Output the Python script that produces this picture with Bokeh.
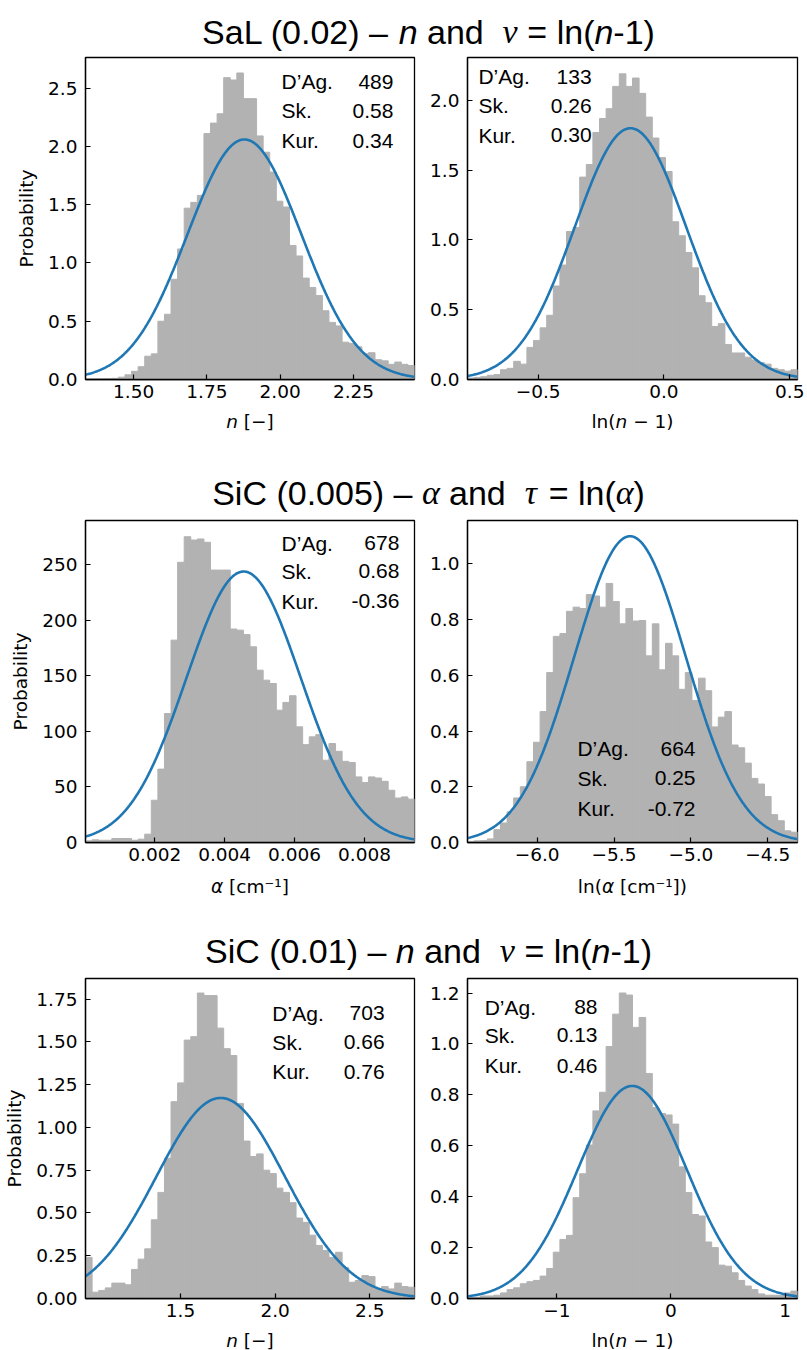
import numpy as np
from bokeh.plotting import figure
from bokeh.layouts import column, row
from bokeh.models import Range1d, FixedTicker
from bokeh.core.properties import value
from bokeh.embed import file_html
from bokeh.resources import INLINE

# ------------------------------------------------------------------ data
stat_names = ["D\u2019Ag.", "Sk.", "Kur."]

# Row 1 : SaL (0.02) - n and nu = ln(n-1)
sal_n_xlim = [1.336, 2.458]
sal_n_ylim = [0.0, 2.763]
sal_n_counts = [0.0, 0.0, 0.003, 0.008, 0.01, 0.02, 0.04, 0.07, 0.11, 0.20,
                0.22, 0.50, 0.56, 0.86, 1.12, 1.47, 1.52, 1.58, 2.11, 2.20,
                2.28, 2.59, 2.57, 2.63, 2.41, 2.41, 2.09, 1.95, 1.78, 1.53,
                1.48, 1.15, 1.06, 0.87, 0.79, 0.72, 0.59, 0.49, 0.46, 0.32,
                0.31, 0.28, 0.22, 0.23, 0.17, 0.16, 0.13, 0.15, 0.13, 0.12]
sal_n_fit = [1.878, 0.1937]          # mean, std of fitted normal
sal_n_stats = ["489", "0.58", "0.34"]
sal_n_xticks = [1.5, 1.75, 2.0, 2.25]
sal_n_xticklabels = ["1.50", "1.75", "2.00", "2.25"]
sal_n_yticks = [0.0, 0.5, 1.0, 1.5, 2.0, 2.5]
sal_n_yticklabels = ["0.0", "0.5", "1.0", "1.5", "2.0", "2.5"]

sal_v_xlim = [-0.781, 0.531]
sal_v_ylim = [0.0, 2.307]
sal_v_counts = [0.01, 0.015, 0.02, 0.03, 0.035, 0.07, 0.08, 0.13, 0.11, 0.23,
                0.28, 0.37, 0.46, 0.67, 0.82, 1.06, 1.09, 1.45, 1.54, 1.77,
                1.87, 1.94, 2.10, 2.19, 2.10, 2.16, 2.05, 1.88, 1.73, 1.59,
                1.49, 1.13, 1.03, 0.91, 0.80, 0.60, 0.55, 0.38, 0.40, 0.25,
                0.19, 0.19, 0.16, 0.14, 0.12, 0.11, 0.08, 0.07, 0.06, 0.07]
sal_v_fit = [-0.133, 0.2216]
sal_v_stats = ["133", "0.26", "0.30"]
sal_v_xticks = [-0.5, 0.0, 0.5]
sal_v_xticklabels = ["\u22120.5", "0.0", "0.5"]
sal_v_yticks = [0.0, 0.5, 1.0, 1.5, 2.0]
sal_v_yticklabels = ["0.0", "0.5", "1.0", "1.5", "2.0"]

# Row 2 : SiC (0.005) - alpha and tau = ln(alpha)
sic_a_xlim = [0.00002, 0.00943]
sic_a_ylim = [0.0, 289.6]
sic_a_counts = [1.5, 2.4, 2, 2, 3.6, 3.6, 3.6, 2, 3, 7.5,
                38, 66, 116, 182, 252, 275, 272, 273, 270, 245,
                245, 245, 192, 191, 187, 176, 155, 146, 143, 119,
                126, 132, 104, 88, 95, 97, 74, 89, 82, 73,
                72, 59, 54, 59, 58, 55, 47, 40, 41, 39]
sic_a_fit = [0.004543, 0.001637]
sic_a_stats = ["678", "0.68", "-0.36"]
sic_a_xticks = [0.002, 0.004, 0.006, 0.008]
sic_a_xticklabels = ["0.002", "0.004", "0.006", "0.008"]
sic_a_yticks = [0.0, 50.0, 100.0, 150.0, 200.0, 250.0]
sic_a_yticklabels = ["0", "50", "100", "150", "200", "250"]

sic_t_xlim = [-6.453, -4.307]
sic_t_ylim = [0.0, 1.156]
sic_t_counts = [0.004, 0.006, 0.007, 0.013, 0.046, 0.07, 0.11, 0.16, 0.20, 0.29,
                0.36, 0.47, 0.61, 0.74, 0.75, 0.83, 0.845, 0.84, 0.89, 0.885,
                0.845, 0.93, 0.865, 0.785, 0.84, 0.795, 0.797, 0.67, 0.785, 0.62,
                0.715, 0.67, 0.55, 0.61, 0.51, 0.59, 0.545, 0.415, 0.45, 0.47,
                0.35, 0.34, 0.285, 0.23, 0.21, 0.165, 0.10, 0.078, 0.042, 0.037]
sic_t_fit = [-5.396, 0.3628]
sic_t_stats = ["664", "0.25", "-0.72"]
sic_t_xticks = [-6.0, -5.5, -5.0, -4.5]
sic_t_xticklabels = ["\u22126.0", "\u22125.5", "\u22125.0", "\u22124.5"]
sic_t_yticks = [0.0, 0.2, 0.4, 0.6, 0.8, 1.0]
sic_t_yticklabels = ["0.0", "0.2", "0.4", "0.6", "0.8", "1.0"]

# Row 3 : SiC (0.01) - n and nu = ln(n-1)
sic_n_xlim = [0.998, 2.736]
sic_n_ylim = [0.0, 1.87]
sic_n_counts = [0.24, 0.037, 0.047, 0.062, 0.09, 0.09, 0.08, 0.17, 0.23, 0.29,
                0.46, 0.62, 0.82, 1.15, 1.26, 1.51, 1.53, 1.785, 1.77, 1.77,
                1.58, 1.46, 1.42, 1.14, 0.92, 0.83, 0.845, 0.75, 0.73, 0.645,
                0.62, 0.56, 0.47, 0.445, 0.37, 0.31, 0.28, 0.24, 0.27, 0.18,
                0.095, 0.105, 0.134, 0.128, 0.056, 0.07, 0.056, 0.09, 0.07, 0.066]
sic_n_fit = [1.712, 0.3404]
sic_n_stats = ["703", "0.66", "0.76"]
sic_n_xticks = [1.5, 2.0, 2.5]
sic_n_xticklabels = ["1.5", "2.0", "2.5"]
sic_n_yticks = [0.0, 0.25, 0.5, 0.75, 1.0, 1.25, 1.5, 1.75]
sic_n_yticklabels = ["0.00", "0.25", "0.50", "0.75", "1.00", "1.25", "1.50", "1.75"]

sic_v_xlim = [-1.782, 1.108]
sic_v_ylim = [0.0, 1.257]
sic_v_counts = [0.005, 0.005, 0.01, 0.01, 0.013, 0.022, 0.035, 0.042, 0.058, 0.066,
                0.071, 0.088, 0.118, 0.182, 0.232, 0.248, 0.396, 0.49, 0.603, 0.737,
                0.81, 0.99, 1.117, 1.2, 1.192, 1.065, 1.104, 0.884, 0.75, 0.727,
                0.721, 0.685, 0.517, 0.416, 0.33, 0.324, 0.222, 0.2, 0.131, 0.127,
                0.101, 0.071, 0.049, 0.035, 0.018, 0.013, 0.013, 0.012, 0.022, 0.029]
sic_v_fit = [-0.339, 0.4778]
sic_v_stats = ["88", "0.13", "0.46"]
sic_v_xticks = [-1.0, 0.0, 1.0]
sic_v_xticklabels = ["\u22121", "0", "1"]
sic_v_yticks = [0.0, 0.2, 0.4, 0.6, 0.8, 1.0, 1.2]
sic_v_yticklabels = ["0.0", "0.2", "0.4", "0.6", "0.8", "1.0", "1.2"]

title1 = [("SaL (0.02) \u2013 ", "sans"), ("n", "sans_it"), (" and  ", "sans"),
          ("\u03bd", "greek"), (" = ln(", "sans"), ("n", "sans_it"), ("-1)", "sans")]
title2 = [("SiC (0.005) \u2013 ", "sans"), ("\u03b1", "greek"), (" and  ", "sans"),
          ("\u03c4", "greek"), (" = ln(", "sans"), ("\u03b1", "greek"), (")", "sans")]
title3 = [("SiC (0.01) \u2013 ", "sans"), ("n", "sans_it"), (" and  ", "sans"),
          ("\u03bd", "greek"), (" = ln(", "sans"), ("n", "sans_it"), ("-1)", "sans")]

xlab_n = [("n", "dv_it"), (" [\u2212]", "dv")]
xlab_v = [("ln(", "dv"), ("n", "dv_it"), (" \u2212 1)", "dv")]
xlab_a = [("\u03b1", "dv_it"), (" [cm\u207b\u00b9]", "dv")]
xlab_t = [("ln(", "dv"), ("\u03b1", "dv_it"), (" [cm\u207b\u00b9])", "dv")]

# ------------------------------------------------------------------ styling
GRAY = "#b2b2b2"
BLUE = "#1f77b4"
TICK_FS = "18.5px"
BASE_FIX = 0.32      # em: lift so that the glyph baseline lands where intended
FONTS = {"sans": ("Liberation Sans", "normal"), "sans_it": ("Liberation Sans", "italic"),
         "greek": ("Liberation Serif", "italic"),
         "dv": ("DejaVu Sans", "normal"), "dv_it": ("DejaVu Sans", "italic")}
W_SANS = {' ': .278, '(': .333, ')': .333, '-': .333, '.': .278, '0': .556, '1': .556,
          '2': .556, '5': .556, '=': .584, '\u2013': .556, 'C': .722, 'L': .556,
          'S': .667, 'a': .556, 'd': .556, 'i': .222, 'l': .222, 'n': .556}
W_GREEK = {'\u03b1': .52, '\u03bd': .45, '\u03c4': .43}
W_DV = {' ': .318, '(': .390, ')': .390, '[': .390, ']': .390, '\u2212': .838,
        '1': .636, 'c': .550, 'l': .278, 'm': .974, 'n': .634, '\u03b1': .659,
        '\u207b': .533, '\u00b9': .401}


def width_of(txt, kind, size):
    table = W_GREEK if kind == "greek" else (W_DV if kind.startswith("dv") else W_SANS)
    return sum(table.get(ch, 0.55) for ch in txt) * size


def layout_segments(segs, size):
    widths = [width_of(t, k, size) for t, k in segs]
    off = -sum(widths) / 2.0
    out = []
    for (t, k), w in zip(segs, widths):
        stripped = t.lstrip(" ")
        lead = width_of(t[:len(t) - len(stripped)], k, size)
        out.append((stripped.rstrip(" "), k, off + lead))
        off += w
    return out


def add_segments(fig, segs, cx, base_y, size):
    for txt, kind, x in layout_segments(segs, size):
        font, style = FONTS[kind]
        fig.text(x=[cx + x], y=[base_y + BASE_FIX * size], text=[txt], text_font=value(font),
                 text_font_style=style, text_font_size=f"{size}px", text_color="black",
                 text_align="left", text_baseline="alphabetic")


def strip(height, items):
    """text strip spanning the full width; items = (segments, centre x, baseline y, size)"""
    s = figure(width=807, height=height, x_range=Range1d(0, 807), y_range=Range1d(0, height),
               output_backend="svg", toolbar_location=None, tools="", min_border=0,
               x_axis_location=None, y_axis_location=None, title=None)
    s.grid.visible = False
    s.outline_line_color = None
    s.background_fill_color = "white"
    s.border_fill_color = "white"
    for segs, cx, by, size in items:
        add_segments(s, segs, cx, by, size)
    return s


def make_panel(side, frame_h, xlim, ylim, counts, fit, stats, xt, xtl, yt, ytl, stat_pos):
    if side == "L":
        W, bl, br = 425, 85, 11
    else:
        W, bl, br = 382, 42, 10
    H = 4 + frame_h + 30
    p = figure(width=W, height=H, x_range=Range1d(*xlim), y_range=Range1d(*ylim),
               output_backend="svg", toolbar_location=None, tools="", title=None,
               min_border_left=bl, min_border_right=br, min_border_top=4,
               min_border_bottom=30)
    p.xgrid.visible = False
    p.ygrid.visible = False
    p.background_fill_color = "white"
    p.border_fill_color = "white"
    p.outline_line_color = "black"
    p.outline_line_width = 1.3
    p.outline_line_alpha = 1.0

    edges = np.linspace(xlim[0], xlim[1], len(counts) + 1)
    p.quad(left=edges[:-1], right=edges[1:], bottom=0, top=counts,
           fill_color=GRAY, line_color=GRAY, line_width=1.0)
    xs = np.linspace(xlim[0], xlim[1], 400)
    mu, sd = fit
    ys = np.exp(-0.5 * ((xs - mu) / sd) ** 2) / (sd * np.sqrt(2 * np.pi))
    p.line(xs, ys, line_color=BLUE, line_width=2.6)

    for ax, ticks, labels in ((p.xaxis[0], xt, xtl), (p.yaxis[0], yt, ytl)):
        ax.ticker = FixedTicker(ticks=ticks)
        ax.major_label_overrides = dict(zip(ticks, labels))
        ax.major_tick_in = 5
        ax.major_tick_out = 0
        ax.minor_tick_in = 0
        ax.minor_tick_out = 0
        ax.major_tick_line_color = "black"
        ax.major_tick_line_width = 1.2
        ax.axis_line_color = "black"
        ax.axis_line_width = 1.3
        ax.major_label_text_font = "DejaVu Sans"
        ax.major_label_text_font_size = TICK_FS
        ax.major_label_text_color = "black"
    p.xaxis.major_label_standoff = 5
    p.yaxis.major_label_standoff = 8
    if side == "L":
        p.yaxis.axis_label = "Probability"
        p.yaxis.axis_label_text_font = "DejaVu Sans"
        p.yaxis.axis_label_text_font_size = TICK_FS
        p.yaxis.axis_label_text_font_style = "normal"
        p.yaxis.axis_label_text_color = "black"
        p.yaxis.axis_label_standoff = 8

    x0, x1 = xlim
    y0, y1 = ylim
    fl, fr, fys = stat_pos
    lift = BASE_FIX * 21 / frame_h * (y1 - y0)
    yy = [y0 + f * (y1 - y0) + lift for f in fys]
    p.text(x=[x0 + fl * (x1 - x0)] * 3, y=yy, text=stat_names,
           text_font=value("Liberation Sans"), text_font_size="21px", text_color="black",
           text_align="left", text_baseline="alphabetic")
    p.text(x=[x0 + fr * (x1 - x0)] * 3, y=yy, text=stats,
           text_font=value("Liberation Sans"), text_font_size="21px", text_color="black",
           text_align="right", text_baseline="alphabetic")
    return p


p1 = make_panel("L", 322, sal_n_xlim, sal_n_ylim, sal_n_counts, sal_n_fit, sal_n_stats,
                sal_n_xticks, sal_n_xticklabels, sal_n_yticks, sal_n_yticklabels,
                (0.596, 0.936, [0.904, 0.814, 0.720]))
p2 = make_panel("R", 322, sal_v_xlim, sal_v_ylim, sal_v_counts, sal_v_fit, sal_v_stats,
                sal_v_xticks, sal_v_xticklabels, sal_v_yticks, sal_v_yticklabels,
                (0.033, 0.376, [0.920, 0.830, 0.737]))
p3 = make_panel("L", 322, sic_a_xlim, sic_a_ylim, sic_a_counts, sic_a_fit, sic_a_stats,
                sic_a_xticks, sic_a_xticklabels, sic_a_yticks, sic_a_yticklabels,
                (0.596, 0.954, [0.909, 0.821, 0.728]))
p4 = make_panel("R", 322, sic_t_xlim, sic_t_ylim, sic_t_counts, sic_t_fit, sic_t_stats,
                sic_t_xticks, sic_t_xticklabels, sic_t_yticks, sic_t_yticklabels,
                (0.333, 0.691, [0.270, 0.179, 0.084]))
p5 = make_panel("L", 320, sic_n_xlim, sic_n_ylim, sic_n_counts, sic_n_fit, sic_n_stats,
                sic_n_xticks, sic_n_xticklabels, sic_n_yticks, sic_n_yticklabels,
                (0.568, 0.909, [0.871, 0.780, 0.687]))
p6 = make_panel("R", 320, sic_v_xlim, sic_v_ylim, sic_v_counts, sic_v_fit, sic_v_stats,
                sic_v_xticks, sic_v_xticklabels, sic_v_yticks, sic_v_yticklabels,
                (0.052, 0.394, [0.889, 0.801, 0.707]))

LC, RC, TC = 249.5, 632, 428     # centres of left frame, right frame, title
s0 = strip(53, [(title1, TC, 11, 34)])
s1 = strip(107, [(xlab_n, LC, 89, 18.5), (xlab_v, RC, 89, 18.5), (title2, TC, 13, 34)])
s2 = strip(102, [(xlab_a, LC, 82, 18.5), (xlab_t, RC, 82, 18.5), (title3, TC, 13, 34)])
s3 = strip(22, [(xlab_n, LC, 4, 18.5), (xlab_v, RC, 4, 18.5)])

layout = column(s0, row(p1, p2), s1, row(p3, p4), s2, row(p5, p6), s3)

open("out.html", "w").write(file_html(layout, INLINE))
